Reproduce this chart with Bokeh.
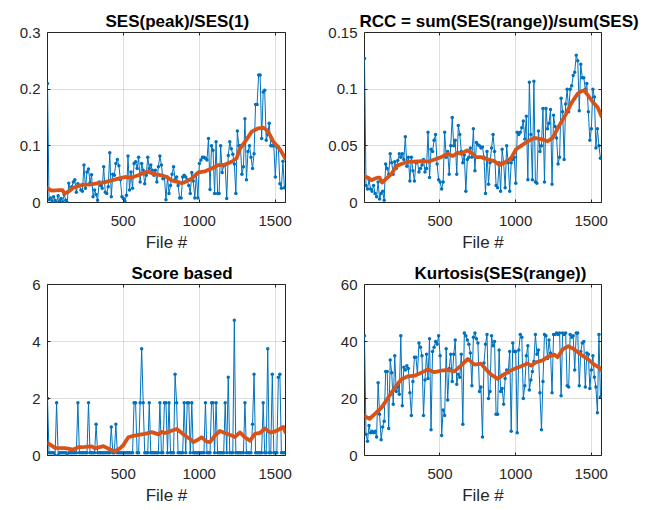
from bokeh.plotting import figure
from bokeh.layouts import gridplot
from bokeh.models import (Range1d, FixedTicker, CustomJSTickFormatter, LinearAxis,
                          CustomLabelingPolicy)
from bokeh.embed import file_html
from bokeh.resources import INLINE

# ---------------- data ----------------
FILE_STEP = 10          # file numbers: 1, 11, 21, ...
X_MIN, X_MAX = 1, 1568
X_TICKS = [500, 1000, 1500]
X_LABEL = "File #"

TITLES = ["SES(peak)/SES(1)", "RCC = sum(SES(range))/sum(SES)",
          "Score based", "Kurtosis(SES(range))"]

SES_PEAK = [
    0.21, 0.005, 0.008, 0.002, 0.01, 0.004, 0.0, 0.012, 0.003, 0.007,
    0.001, 0.014, 0.004, 0.0, 0.034, 0.022, 0.028, 0.036, 0.04, 0.018,
    0.033, 0.03, 0.022, 0.02, 0.066, 0.025, 0.054, 0.059, 0.035, 0.049,
    0.01, 0.022, 0.014, 0.004, 0.036, 0.03, 0.025, 0.063, 0.018, 0.016,
    0.028, 0.088, 0.01, 0.05, 0.048, 0.069, 0.076, 0.065, 0.04, 0.01,
    0.007, 0.002, 0.013, 0.082, 0.022, 0.054, 0.025, 0.069, 0.072, 0.06,
    0.08, 0.036, 0.069, 0.057, 0.033, 0.048, 0.08, 0.06, 0.066, 0.057,
    0.048, 0.057, 0.036, 0.063, 0.082, 0.066, 0.042, 0.045, 0.005, 0.045,
    0.016, 0.03, 0.05, 0.063, 0.04, 0.045, 0.03, 0.008, 0.008, 0.045,
    0.048, 0.045, 0.04, 0.03, 0.016, 0.053, 0.038, 0.008, 0.05, 0.008,
    0.069, 0.075, 0.08, 0.08, 0.078, 0.075, 0.113, 0.023, 0.1, 0.092,
    0.016, 0.107, 0.016, 0.016, 0.1, 0.053, 0.065, 0.066, 0.007, 0.083,
    0.107, 0.095, 0.085, 0.068, 0.016, 0.126, 0.1, 0.1, 0.05, 0.063,
    0.148, 0.04, 0.09, 0.1, 0.08, 0.06, 0.086, 0.173, 0.173, 0.225,
    0.225, 0.113, 0.195, 0.198, 0.11, 0.12, 0.14, 0.1, 0.1, 0.1,
    0.045, 0.098, 0.098, 0.033, 0.025, 0.073, 0.026]
SES_PEAK_SMOOTH_FILE = [1, 29, 80, 100, 112, 138, 171, 226, 292, 336, 380, 424, 467, 511, 555,
                        599, 643, 665, 709, 753, 785, 819, 862, 884, 906, 950, 994, 1038, 1082,
                        1126, 1170, 1213, 1246, 1268, 1301, 1345, 1389, 1422, 1444, 1466, 1488,
                        1520, 1542, 1566]
SES_PEAK_SMOOTH = [0.025, 0.021, 0.022, 0.022, 0.016, 0.019, 0.026, 0.031, 0.032, 0.034,
                   0.036, 0.039, 0.042, 0.045, 0.044, 0.048, 0.053, 0.054, 0.05, 0.048,
                   0.045, 0.039, 0.036, 0.034, 0.036, 0.042, 0.053, 0.055, 0.06, 0.066,
                   0.067, 0.072, 0.078, 0.095, 0.107, 0.125, 0.131, 0.132, 0.128, 0.119,
                   0.107, 0.098, 0.089, 0.078]

RCC = [
    0.127, 0.015, 0.012, 0.02, 0.012, 0.01, 0.015, 0.008, 0.005, 0.018,
    0.003, 0.008, 0.01, 0.002, 0.034, 0.03, 0.025, 0.043, 0.035, 0.025,
    0.036, 0.03, 0.037, 0.043, 0.04, 0.043, 0.038, 0.058, 0.032, 0.04,
    0.019, 0.04, 0.028, 0.019, 0.035, 0.036, 0.027, 0.03, 0.033, 0.038,
    0.027, 0.03, 0.062, 0.022, 0.047, 0.045, 0.055, 0.06, 0.034, 0.02,
    0.018, 0.012, 0.018, 0.062, 0.04, 0.045, 0.025, 0.05, 0.075, 0.05,
    0.055, 0.025, 0.068, 0.06, 0.045, 0.035, 0.042, 0.01, 0.038, 0.04,
    0.048, 0.04, 0.065, 0.028, 0.053, 0.051, 0.05, 0.048, 0.049, 0.04,
    0.008, 0.045, 0.016, 0.035, 0.048, 0.06, 0.045, 0.015, 0.013, 0.035,
    0.01, 0.047, 0.035, 0.013, 0.05, 0.035, 0.01, 0.035, 0.038, 0.04,
    0.017, 0.062, 0.06, 0.062, 0.066, 0.072, 0.056, 0.076, 0.02, 0.106,
    0.06, 0.02, 0.107, 0.018, 0.017, 0.063, 0.045, 0.05, 0.083, 0.018,
    0.083, 0.065, 0.07, 0.082, 0.016, 0.077, 0.067, 0.057, 0.034, 0.04,
    0.092, 0.08, 0.038, 0.087, 0.1, 0.08, 0.1, 0.103, 0.112, 0.115,
    0.13, 0.125, 0.081, 0.122, 0.11, 0.11, 0.1, 0.105, 0.08, 0.055,
    0.065, 0.1, 0.093, 0.048, 0.065, 0.05, 0.039]
RCC_SMOOTH_FILE = [1, 24, 46, 68, 90, 101, 117, 145, 178, 211, 244, 288, 332, 376, 420, 464,
                   508, 552, 585, 618, 640, 680, 706, 739, 772, 816, 860, 893, 926, 970, 1003,
                   1036, 1080, 1124, 1168, 1212, 1245, 1289, 1333, 1366, 1410, 1432, 1454,
                   1476, 1509, 1542, 1568]
RCC_SMOOTH = [0.023, 0.022, 0.0197, 0.021, 0.022, 0.022, 0.0176, 0.021, 0.025, 0.032,
              0.034, 0.036, 0.036, 0.0365, 0.036, 0.038, 0.04, 0.043, 0.041, 0.044,
              0.043, 0.046, 0.044, 0.04, 0.04, 0.038, 0.0365, 0.033, 0.035, 0.039,
              0.047, 0.05, 0.054, 0.057, 0.056, 0.054, 0.057, 0.068, 0.078, 0.087,
              0.096, 0.098, 0.099, 0.095, 0.089, 0.084, 0.076]

SCORE = [
    2.0, 0.1, 0.1, 0.1, 0.1, 0.0, 1.85, 0.0, 0.1, 0.1,
    0.1, 0.1, 0.1, 0.0, 0.1, 0.1, 0.1, 0.1, 0.1, 0.1,
    1.85, 0.1, 0.1, 0.1, 0.1, 0.1, 0.1, 1.85, 0.1, 0.1,
    0.1, 0.1, 1.1, 0.1, 0.1, 0.1, 0.1, 0.1, 0.1, 0.1,
    0.1, 0.1, 1.0, 0.1, 0.1, 1.1, 0.1, 0.1, 0.1, 0.1,
    0.1, 0.1, 0.1, 0.1, 0.1, 0.1, 0.1, 1.85, 1.85, 0.1,
    0.1, 1.85, 3.75, 1.85, 0.1, 0.1, 0.1, 1.85, 0.1, 0.1,
    0.1, 0.1, 0.1, 0.1, 1.85, 0.1, 0.1, 1.85, 1.85, 0.1,
    1.85, 0.1, 0.1, 0.1, 2.85, 1.85, 0.1, 0.1, 0.1, 0.1,
    1.85, 0.1, 1.85, 1.85, 0.1, 1.85, 0.1, 0.1, 0.1, 0.1,
    0.1, 0.1, 0.1, 0.1, 1.85, 0.1, 0.1, 0.1, 1.85, 1.85,
    0.1, 1.85, 0.1, 0.1, 0.1, 0.1, 0.1, 1.85, 0.1, 2.75,
    0.1, 0.1, 0.1, 4.75, 0.1, 0.1, 0.1, 0.1, 0.1, 0.1,
    1.85, 0.1, 0.1, 0.1, 0.1, 1.1, 2.85, 0.1, 0.1, 0.1,
    0.1, 0.1, 1.85, 0.1, 0.1, 3.75, 0.1, 0.1, 2.85, 0.1,
    0.1, 0.1, 2.75, 2.85, 0.1, 0.1, 0.1]
SCORE_SMOOTH_FILE = [1, 51, 116, 171, 204, 248, 292, 314, 369, 413, 445, 478, 500, 533, 560,
                     599, 643, 687, 731, 753, 775, 818, 851, 873, 906, 939, 961, 994, 1016,
                     1049, 1071, 1103, 1136, 1169, 1213, 1235, 1268, 1301, 1334, 1367, 1400,
                     1433, 1466, 1498, 1531, 1553, 1568]
SCORE_SMOOTH = [0.44, 0.27, 0.26, 0.21, 0.29, 0.3, 0.32, 0.25, 0.33, 0.21,
                0.15, 0.25, 0.36, 0.64, 0.68, 0.72, 0.76, 0.82, 0.74, 0.83,
                0.79, 0.87, 0.93, 0.84, 0.7, 0.58, 0.47, 0.56, 0.64, 0.49,
                0.47, 0.7, 0.86, 0.79, 0.7, 0.65, 0.81, 0.64, 0.52, 0.76,
                0.79, 0.95, 0.81, 0.84, 0.93, 1.0, 0.81]

KURT = [
    42, 7.5, 5, 10.5, 8, 8.5, 8, 8.5, 6.5, 25.5,
    14.5, 5.5, 10, 12, 29.5, 29.5, 9.5, 33.5, 29, 18,
    35, 22.5, 24, 21.5, 42, 17.5, 31, 30, 31.5, 30.5,
    22, 14, 26, 34.5, 34.5, 28.5, 39.5, 38, 35, 14,
    26.5, 35.5, 27, 41, 9, 36.5, 38, 40, 39, 42,
    35, 7, 16, 14, 37.5, 19.5, 30.5, 35.5, 26, 35.5,
    40.5, 25, 28.5, 27.5, 35.5, 11, 43, 42, 40.5, 39,
    36, 24.5, 41.5, 43, 41, 39.5, 22.5, 24, 6.5, 32.5,
    39, 42.5, 20, 22.5, 42, 38.5, 40, 14.5, 14.5, 37,
    22.5, 23.5, 18, 27, 30, 29, 36.5, 8.5, 39.5, 36.5,
    36.5, 8, 37, 42.5, 41.5, 20, 24.5, 35, 38.5, 23,
    26.5, 29.5, 33, 42.5, 35.5, 37, 22, 9, 26, 42.5,
    42, 34, 40.5, 36, 22, 42.5, 42.5, 43, 42.5, 43,
    21, 43, 42.5, 43, 24.5, 24, 42.5, 41.5, 42, 30,
    43, 43, 24.5, 36.5, 39.5, 40, 24, 36, 35.5, 23.5,
    30, 35, 27.5, 24, 15, 42.5, 20.5]
KURT_SMOOTH_FILE = [1, 35, 68, 112, 156, 200, 244, 288, 332, 376, 420, 464, 508, 552, 596,
                    640, 684, 728, 772, 805, 838, 882, 915, 959, 992, 1036, 1080, 1102, 1135,
                    1179, 1212, 1256, 1278, 1311, 1349, 1388, 1432, 1476, 1520, 1553, 1568]
KURT_SMOOTH = [13.8, 12.9, 14.5, 16.7, 20.2, 23.7, 26.7, 27.8, 28, 29,
               30.2, 29.2, 29.8, 30, 29.5, 31.6, 33.9, 31.9, 32.2, 30.2,
               28.4, 26.9, 28.2, 29.6, 30.4, 31.3, 32.3, 31.5, 32.7, 33.4,
               34.6, 35.4, 34.5, 37.2, 38.4, 37.2, 35.4, 33.9, 31.9, 30.8, 29.9]

Y_TICKS = [[0, 0.1, 0.2, 0.3], [0, 0.05, 0.1, 0.15], [0, 2, 4, 6], [0, 20, 40, 60]]
Y_MAX = [0.3, 0.15, 6, 60]

# ---------------- style ----------------
BLUE = "#0072BD"
ORANGE = "#D95319"
AXC = "#262626"
FONT = "Liberation Sans"


def files_for(values):
    return [1 + FILE_STEP * i for i in range(len(values))]


def fmt():
    return CustomJSTickFormatter(code="return tick.toString();")


def make_panel(idx, values, sm_file, sm_vals, width, height, borders, title_offset):
    left, right, top, bottom = borders
    p = figure(width=width, height=height, output_backend="svg", toolbar_location=None,
               x_range=Range1d(X_MIN, X_MAX), y_range=Range1d(0, Y_MAX[idx]),
               min_border_left=left, min_border_right=right,
               min_border_top=top, min_border_bottom=bottom,
               background_fill_color="white", border_fill_color="white",
               outline_line_color=AXC, outline_line_width=1)
    p.title.text = TITLES[idx]
    p.title.align = "left"
    p.title.offset = title_offset
    p.title.text_font = FONT
    p.title.text_font_size = "17px"
    p.title.text_font_style = "bold"
    p.title.text_color = "black"
    p.title.standoff = 4

    xt = FixedTicker(ticks=X_TICKS)
    yt = FixedTicker(ticks=Y_TICKS[idx])

    for ax, tk in ((p.xaxis[0], xt), (p.yaxis[0], yt)):
        ax.ticker = tk
        ax.formatter = fmt()
        ax.major_label_text_font = FONT
        ax.major_label_text_font_size = "15px"
        ax.major_label_text_color = AXC
        ax.major_tick_in = 3
        ax.major_tick_out = 0
        ax.minor_tick_in = 0
        ax.minor_tick_out = 0
        ax.major_tick_line_color = AXC
        ax.axis_line_color = None
    p.xaxis[0].major_label_standoff = 13
    p.yaxis[0].major_label_standoff = 7
    p.xaxis[0].axis_label = X_LABEL
    p.xaxis[0].axis_label_text_font = FONT
    p.xaxis[0].axis_label_text_font_size = "17px"
    p.xaxis[0].axis_label_text_font_style = "normal"
    p.xaxis[0].axis_label_text_color = AXC
    p.xaxis[0].axis_label_standoff = 4

    # mirrored tick marks on the top and right edges (box on), with no labels and no space
    for loc, tk in (("above", xt), ("right", yt)):
        ax = LinearAxis(ticker=tk, formatter=fmt(),
                        major_label_policy=CustomLabelingPolicy(code="return new Set()"),
                        major_label_text_font_size="0px",
                        major_label_standoff=0, major_tick_in=3, major_tick_out=0,
                        minor_tick_in=0, minor_tick_out=0,
                        major_tick_line_color=AXC, axis_line_color=None)
        p.add_layout(ax, loc)

    p.xgrid.ticker = xt
    p.ygrid.ticker = yt
    for g in (p.xgrid, p.ygrid):
        g.grid_line_color = AXC
        g.grid_line_alpha = 0.15
        g.grid_line_width = 1

    xs = files_for(values)
    p.line(xs, values, color=BLUE, line_width=1)
    p.scatter(xs, values, size=3.5, color=BLUE, line_color=None)
    p.line(sm_file, sm_vals, color=ORANGE, line_width=3.8, line_cap="round", line_join="round")
    return p


p1 = make_panel(0, SES_PEAK, SES_PEAK_SMOOTH_FILE, SES_PEAK_SMOOTH, 325, 255, (47, 40, 32, 53), 58)
p2 = make_panel(1, RCC, RCC_SMOOTH_FILE, RCC_SMOOTH, 324, 255, (36, 48, 32, 53), -5)
p3 = make_panel(2, SCORE, SCORE_SMOOTH_FILE, SCORE_SMOOTH, 325, 255, (47, 39, 29, 55), 84)
p4 = make_panel(3, KURT, KURT_SMOOTH_FILE, KURT_SMOOTH, 324, 255, (36, 48, 29, 55), 50)

grid = gridplot([[p1, p2], [p3, p4]], toolbar_location=None)

open("out.html", "w").write(file_html(grid, INLINE))
